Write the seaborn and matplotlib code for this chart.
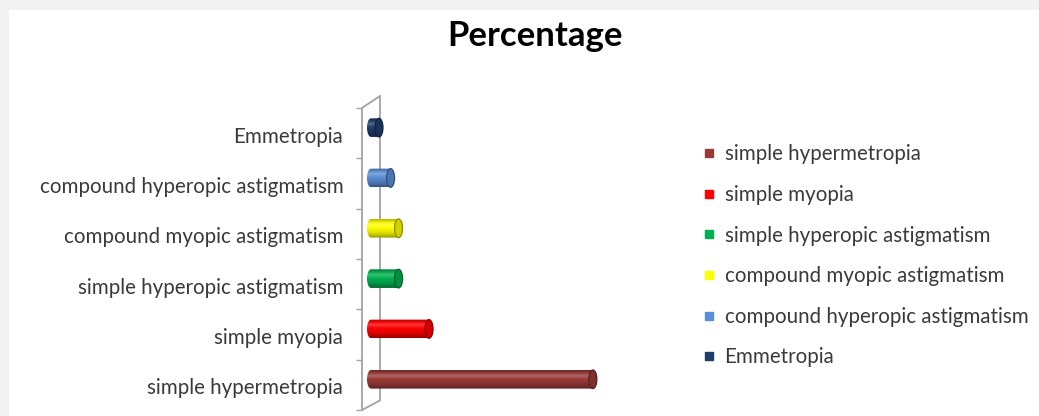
import numpy as np
import pandas as pd
import matplotlib
matplotlib.use("Agg")
import matplotlib.pyplot as plt
import seaborn as sns
from matplotlib.patches import Ellipse, Rectangle, PathPatch
from matplotlib.path import Path
from matplotlib.lines import Line2D
from matplotlib.colors import to_rgb

# Refractive status categories (top to bottom on the chart) and their share in percent
categories = [
    "Emmetropia",
    "compound hyperopic astigmatism",
    "compound myopic astigmatism",
    "simple hyperopic astigmatism",
    "simple myopia",
    "simple hypermetropia",
]
percentages = [2.2, 5.4, 7.6, 7.6, 16.0, 61.2]
bar_colors = ["#1F3F6B", "#5A8ED6", "#FFFF00", "#00B050", "#FF0000", "#9A3A38"]
legend_order = list(reversed(categories))

sns.set_theme(style="white")
plt.rcParams["font.family"] = ["Lato", "DejaVu Sans"]

W, H = 1039, 416
FS = 14.8
fig = plt.figure(figsize=(W / 100, H / 100), dpi=100, facecolor="#f2f2f2")
fig.add_artist(Rectangle((9 / W, 0), 1, 1 - 10 / H, transform=fig.transFigure,
                         facecolor="white", edgecolor="none", zorder=-10))

ax = fig.add_axes([362 / W, 5 / H, 299 / W, 316 / H])
ax.set_facecolor("none")

df = pd.DataFrame({"category": categories, "percentage": percentages})
palette = dict(zip(categories, bar_colors))
sns.barplot(data=df, x="percentage", y="category", hue="category",
            order=categories, hue_order=categories, palette=palette,
            width=0.37, saturation=1, legend=False, ax=ax)

XMIN, XMAX = -2.48, 80
YTOP, YBOT = -0.648, 5.63
ax.set_xlim(XMIN, XMAX)
ax.set_ylim(YBOT, YTOP)

# pixels per data unit, used for the pseudo-3D depth offsets
ppx = ax.bbox.width / (XMAX - XMIN)
ppy = ax.bbox.height / (YBOT - YTOP)

# shading profile across a cylinder (top -> bottom)
t = np.linspace(0, 1, 80)
shade = np.where(t < 0.35, 1 - 0.3 * ((0.35 - t) / 0.35) ** 2,
                 1 - 0.42 * ((t - 0.35) / 0.65) ** 2)
gloss = 0.2 * np.exp(-((t - 0.3) / 0.12) ** 2)

cap_w = 8 / ppx
for patch in list(ax.patches):
    c = np.array(to_rgb(patch.get_facecolor()))
    x0, y0 = patch.get_x(), patch.get_y()
    w, h = patch.get_width(), patch.get_height()
    yc = y0 + h / 2
    img = c[None, :] * shade[:, None]
    img = img * (1 - gloss[:, None]) + gloss[:, None]
    img = np.clip(img, 0, 1)[:, None, :]

    # body outline: rounded left end + straight body
    ang = np.linspace(np.pi / 2, 3 * np.pi / 2, 30)
    left = np.column_stack([x0 + (cap_w / 2) * np.cos(ang), yc - (h / 2) * np.sin(ang)])
    verts = np.vstack([[x0 + w, y0], left, [x0 + w, y0 + h], [x0 + w, y0]])
    body = PathPatch(Path(verts), facecolor="none", edgecolor="none", transform=ax.transData)
    ax.add_patch(body)
    im = ax.imshow(img, extent=(x0 - cap_w / 2, x0 + w, y0 + h, y0), aspect="auto",
                   interpolation="bilinear", zorder=3)
    im.set_clip_path(body)
    patch.set_visible(False)

    # end face of the cylinder
    ax.add_patch(Ellipse((x0 + w, yc), cap_w, h, facecolor=c * 0.82,
                         edgecolor=c * 0.55, linewidth=0.9, zorder=4))

ax.set_xlim(XMIN, XMAX)
ax.set_ylim(YBOT, YTOP)

# category wall: front and back planes
y_first, y_last = -0.39, 5.61
ddx, ddy = 18 / ppx, -12 / ppy
wall = dict(color="#a3a3a3", linewidth=1.3, clip_on=False, zorder=1)
ax.plot([XMIN, XMIN], [y_first, y_last], **wall)
ax.plot([XMIN + ddx, XMIN + ddx], [y_first + ddy, y_last + ddy * 0.8], **wall)
ax.plot([XMIN, XMIN + ddx], [y_first, y_first + ddy], **wall)
ax.plot([XMIN, XMIN + ddx], [y_last, y_last + ddy * 0.8], **wall)

ax.set_yticks(np.arange(len(categories)) + 0.14, labels=categories)
ax.set_yticks(np.arange(len(categories) + 1) + y_first, minor=True)
ax.tick_params(axis="y", which="major", length=0, pad=13.5, labelsize=FS,
               labelcolor="#3a3a3a")
ax.tick_params(axis="y", which="minor", left=True, length=4, width=1, color="#a3a3a3")
ax.set_xticks([])
ax.set_xlabel("")
ax.set_ylabel("")
for s in ax.spines.values():
    s.set_visible(False)

fig.text(535 / W, 1 - 36 / H, "Percentage", ha="center", va="center",
         fontsize=25, fontweight="bold", color="black")

handles = [Line2D([], [], linestyle="none", marker="s", markersize=5.5,
                  markerfacecolor=palette[c], markeredgecolor=palette[c], label=c)
           for c in legend_order]
fig.legend(handles=handles, loc="upper left", bbox_to_anchor=(703 / W, 1 - 144.5 / H),
           frameon=False, borderpad=0, borderaxespad=0, handlelength=0.6,
           handletextpad=0.45, labelspacing=1.0, fontsize=FS, labelcolor="#3a3a3a")

fig.savefig("out.png", dpi=100, facecolor=fig.get_facecolor())
